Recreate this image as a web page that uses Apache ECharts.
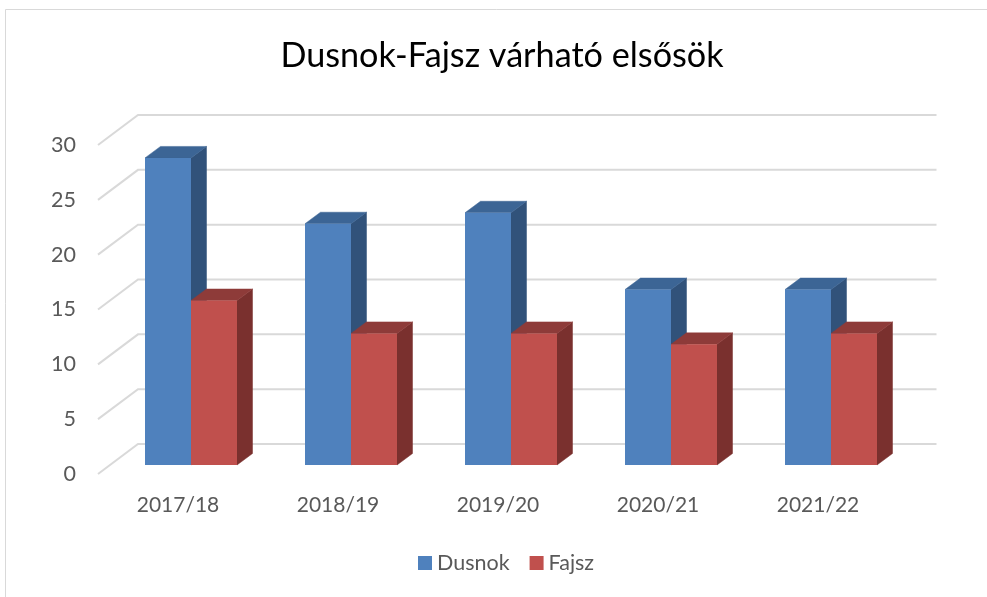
<!DOCTYPE html>
<html><head><meta charset="utf-8">
<style>html,body{margin:0;padding:0;background:#fff}#c{width:987px;height:597px}</style>
<script src="https://cdn.jsdelivr.net/npm/echarts@6/dist/echarts.min.js"></script>
</head><body><div id="c"></div>
<script>
const categories = ['2017/18','2018/19','2019/20','2020/21','2021/22'];
const dusnok = [28,22,23,16,16];
const fajsz = [15,12,12,11,12];
const yTicks = [0,5,10,15,20,25,30];

const FONT = 'Lato';
const BAR_W = 46, PLANE_DX = 13, PLANE_DY = -9, DEPTH_X = 15.5, DEPTH_Y = -11.5;
const WALL_X = 40, WALL_Y = -30;

function barSeries(name, values, slot, front, top, side, z) {
  return {
    name, type: 'custom', coordinateSystem: 'cartesian2d', z,
    itemStyle: {color: front},
    encode: {x: 0, y: 1},
    data: values.map((v, i) => [i, v]),
    renderItem(params, api) {
      const i = api.value(0), v = api.value(1);
      const base = api.coord([i, 0]), head = api.coord([i, v]);
      const xl = base[0] + PLANE_DX + slot * BAR_W, xr = xl + BAR_W;
      const yb = base[1] + PLANE_DY, yt = head[1] + PLANE_DY;
      const poly = (pts, fill) => ({type: 'polygon', shape: {points: pts},
        style: {fill, stroke: fill, lineWidth: 0.5}});
      return {type: 'group', children: [
        poly([[xr,yb],[xr+DEPTH_X,yb+DEPTH_Y],[xr+DEPTH_X,yt+DEPTH_Y],[xr,yt]], side),
        poly([[xl,yt],[xl+DEPTH_X,yt+DEPTH_Y],[xr+DEPTH_X,yt+DEPTH_Y],[xr,yt]], top),
        {type: 'rect', shape: {x: xl, y: yt, width: BAR_W, height: yb - yt}, style: {fill: front}}
      ]};
    }
  };
}

const chart = echarts.init(document.getElementById('c'), null, {renderer: 'canvas'});
chart.setOption({
  animation: false,
  backgroundColor: '#fff',
  graphic: [
    {type: 'line', shape: {x1: 5.5, y1: 9.5, x2: 987, y2: 9.5}, style: {stroke: '#d9d9d9', lineWidth: 1}},
    {type: 'line', shape: {x1: 5.5, y1: 9.5, x2: 5.5, y2: 597}, style: {stroke: '#d9d9d9', lineWidth: 1}}
  ],
  title: {text: 'Dusnok-Fajsz várható elsősök', left: 497, top: 34, textAlign: 'center',
    textStyle: {fontFamily: FONT, fontSize: 34.2, fontWeight: 'normal', color: '#000'}},
  legend: {data: ['Dusnok','Fajsz'], left: 418, top: 552, padding: 0, itemWidth: 14, itemHeight: 14, itemGap: 20,
    icon: 'rect', textStyle: {fontFamily: FONT, fontSize: 21.5, color: '#595959'}},
  grid: {left: 98, top: 145, width: 800, height: 329, containLabel: false},
  xAxis: {type: 'category', data: categories, axisLine: {show: false}, axisTick: {show: false},
    splitLine: {show: false},
    axisLabel: {margin: 21, fontFamily: FONT, fontSize: 21, color: '#595959'}},
  yAxis: {type: 'value', min: 0, max: 30, interval: 5, axisLine: {show: false}, axisTick: {show: false},
    splitLine: {show: false},
    axisLabel: {margin: 22, fontFamily: FONT, fontSize: 21.5, color: '#595959'}},
  series: [
    {name: 'wall', type: 'custom', z: 1, silent: true, encode: {x: 0, y: 1},
      data: yTicks.map(t => [0, t]),
      renderItem(params, api) {
        const p = api.coord([0, api.value(1)]);
        const x0 = params.coordSys.x, w = params.coordSys.width, y = p[1];
        return {type: 'polyline', shape: {points: [[x0,y],[x0+WALL_X,y+WALL_Y],[x0+WALL_X+w-1.5,y+WALL_Y]]},
          style: {fill: 'none', stroke: '#d9d9d9', lineWidth: 2}};
      }},
    barSeries('Dusnok', dusnok, -1, '#4f81bd', '#3c6595', '#31527a', 2),
    barSeries('Fajsz', fajsz, 0, '#c0504d', '#8e3b39', '#7a302e', 3)
  ]
});
</script></body></html>
